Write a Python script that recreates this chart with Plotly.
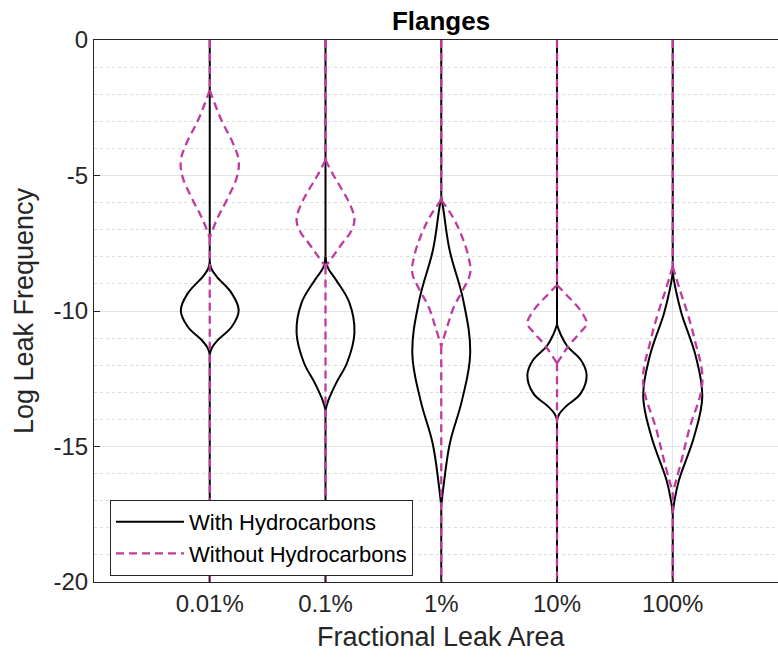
import plotly.graph_objects as go

# ---- data -------------------------------------------------------------
categories = ["0.01%", "0.1%", "1%", "10%", "100%"]
y_ticks = [-20, -15, -10, -5, 0]
y_tick_labels = ["-20", "-15", "-10", "-5", "0"]

# violin outlines: log frequency levels and half-widths (category units)
# first and last entries are the zero-width tails at the axis limits
with_levels = [
    [0, -8.2, -8.45, -8.73, -9.35, -9.98, -10.58, -11.07, -11.35, -11.6, -20],
    [0, -8.0, -8.4, -8.86, -9.7, -10.8, -11.9, -12.66, -13.28, -13.65, -20],
    [0, -5.75, -6.3, -7.75, -9.6, -11.56, -13.28, -14.87, -16.35, -17.2, -20],
    [0, -10.5, -10.85, -11.3, -11.8, -12.36, -13.04, -13.53, -13.8, -14.02, -20],
    [0, -8.6, -9.2, -10.08, -11.69, -13.16, -14.64, -16.24, -17.0, -17.5, -20],
]
with_halfwidth = [
    [0, 0, 0.015, 0.06, 0.19, 0.25, 0.19, 0.07, 0.02, 0, 0],
    [0, 0, 0.02, 0.092, 0.207, 0.25, 0.187, 0.092, 0.026, 0, 0],
    [0, 0, 0.02, 0.072, 0.19, 0.25, 0.18, 0.075, 0.023, 0, 0],
    [0, 0, 0.03, 0.089, 0.205, 0.256, 0.205, 0.075, 0.02, 0, 0],
    [0, 0, 0.025, 0.075, 0.2, 0.255, 0.184, 0.054, 0.015, 0, 0],
]
without_levels = [
    [0, -1.85, -2.95, -3.8, -4.45, -5.05, -5.9, -6.64, -7.3, -20],
    [0, -4.43, -5.0, -5.54, -6.1, -6.64, -7.1, -7.5, -7.95, -8.36, -20],
    [0, -5.9, -6.5, -7.13, -8.0, -8.6, -9.2, -9.84, -10.6, -11.3, -20],
    [0, -9.04, -9.4, -9.72, -10.08, -10.46, -10.8, -11.19, -11.6, -11.93, -20],
    [0, -8.36, -9.2, -10.08, -11.07, -12.6, -14.4, -15.62, -16.7, -20],
]
without_halfwidth = [
    [0, 0, 0.10, 0.2, 0.25, 0.235, 0.147, 0.06, 0.0, 0],
    [0, 0, 0.07, 0.145, 0.215, 0.25, 0.215, 0.145, 0.07, 0, 0],
    [0, 0, 0.095, 0.167, 0.235, 0.25, 0.19, 0.11, 0.05, 0, 0],
    [0, 0, 0.08, 0.153, 0.218, 0.256, 0.2, 0.118, 0.05, 0, 0],
    [0, 0, 0.06, 0.127, 0.19, 0.256, 0.14, 0.069, 0, 0],
]

series_names = ["With Hydrocarbons", "Without Hydrocarbons"]
BLACK = "#000000"
MAGENTA = "#C13A9E"

fig = go.Figure()


def add_violins(levels, halfw, name, color, dash, width):
    for i, (lv, hw) in enumerate(zip(levels, halfw)):
        c = i + 1
        body_lv, body_hw = lv[1:-1], hw[1:-1]
        xs, ys = [], []
        # top tail (zero width)
        xs += [c - hw[0], c - hw[1], None]
        ys += [lv[0], lv[1], None]
        # left side of the body
        xs += [c - w for w in body_hw] + [None]
        ys += list(body_lv) + [None]
        # right side of the body
        xs += [c + w for w in body_hw] + [None]
        ys += list(body_lv) + [None]
        # bottom tail (zero width)
        xs += [c + hw[-2], c + hw[-1]]
        ys += [lv[-2], lv[-1]]
        fig.add_trace(go.Scatter(
            x=xs, y=ys, mode="lines", name=name,
            legendgroup=name, showlegend=(i == 0), connectgaps=False,
            line=dict(color=color, width=width, dash=dash,
                      shape="spline", smoothing=1.1),
            hoverinfo="skip",
        ))


add_violins(with_levels, with_halfwidth, series_names[0], BLACK, "solid", 2)
add_violins(without_levels, without_halfwidth, series_names[1], MAGENTA,
            "8px,5px", 2.3)

AX = "#262626"
FONT = "Liberation Sans, Arial, Helvetica, sans-serif"

fig.update_layout(
    width=778, height=662,
    margin=dict(l=94, r=0, t=40, b=80),
    paper_bgcolor="white", plot_bgcolor="white",
    font=dict(family=FONT, color=AX),
    title=dict(text="<b>Flanges</b>", x=(441 - 94) / 684, xref="paper",
               xanchor="center", y=1 - 21 / 662, yanchor="middle",
               font=dict(size=26, color="black", family=FONT)),
    showlegend=True,
    legend=dict(x=16 / 684, y=(582 - 500) / 542, xanchor="left", yanchor="top",
                bgcolor="white", bordercolor=AX, borderwidth=1,
                font=dict(size=22, color="black", family=FONT),
                itemwidth=68, tracegroupgap=0),
    xaxis=dict(range=[0, 684 / 115.75], tickvals=[1, 2, 3, 4, 5],
               ticktext=categories, tickfont=dict(size=24, color=AX),
               showline=True, linecolor=AX, linewidth=1, mirror=True,
               ticks="inside", ticklen=6, tickcolor=AX,
               showgrid=True, gridcolor="#E3E3E3", gridwidth=1,
               zeroline=False),
    yaxis=dict(range=[-20, 0], tickvals=y_ticks, ticktext=y_tick_labels,
               tickfont=dict(size=24, color=AX),
               showline=True, linecolor=AX, linewidth=1, mirror=False,
               ticks="inside", ticklen=6, tickcolor=AX,
               showgrid=True, gridcolor="#E3E3E3", gridwidth=1,
               zeroline=False,
               minor=dict(dtick=1, showgrid=True, gridcolor="#DCDCDC",
                          griddash="dot", gridwidth=1),
               title=dict(text="Log Leak Frequency", standoff=12,
                          font=dict(size=27, color=AX))),
)

fig.add_annotation(text="Fractional Leak Area", x=3, xref="x",
                   y=-(637 - 582) / 542, yref="paper", showarrow=False,
                   xanchor="center", yanchor="middle",
                   font=dict(size=27, color=AX, family=FONT))

fig.write_html("out.html")
